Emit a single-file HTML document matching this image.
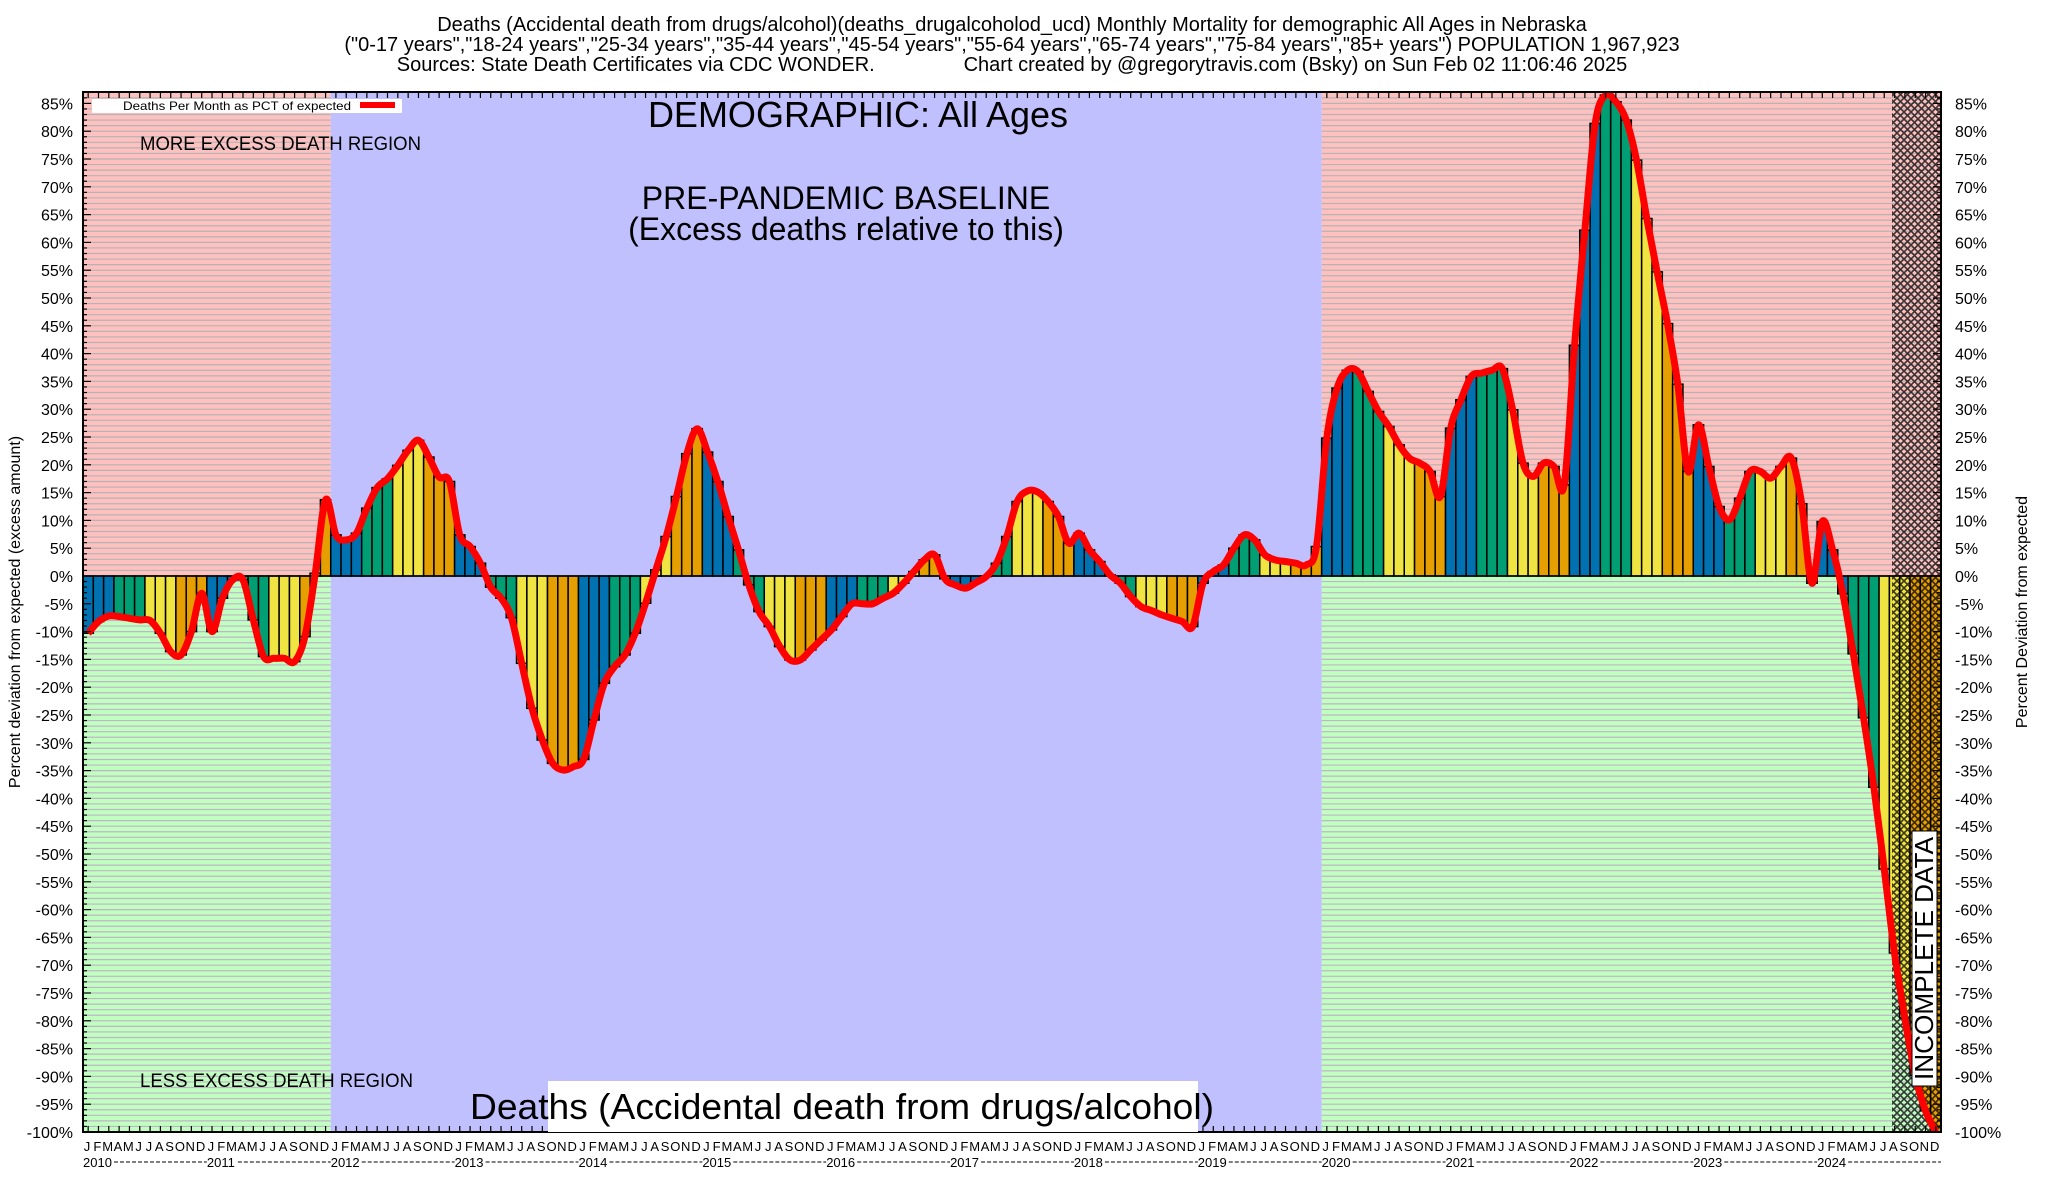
<!DOCTYPE html>
<html><head><meta charset="utf-8">
<style>
html,body{margin:0;padding:0;background:#fff;}
svg{display:block;font-family:"Liberation Sans",Arial,sans-serif;}
</style></head>
<body>
<svg id="chart" width="2048" height="1200" viewBox="0 0 2048 1200" xmlns="http://www.w3.org/2000/svg">
<defs>
<pattern id="hatch" width="7" height="7" patternUnits="userSpaceOnUse">
<path d="M0,0 L7,7 M7,0 L0,7" stroke="#000" stroke-width="1.6" opacity="0.75"/>
</pattern>
<clipPath id="plotclip"><rect x="83" y="92" width="1858" height="1040"/></clipPath>
</defs>
<g font-size="20" text-anchor="middle" fill="#000">
<text x="1012" y="31">Deaths (Accidental death from drugs/alcohol)(deaths_drugalcoholod_ucd) Monthly Mortality for demographic All Ages in Nebraska</text>
<text x="1012" y="51">("0-17 years","18-24 years","25-34 years","35-44 years","45-54 years","55-64 years","65-74 years","75-84 years","85+ years") POPULATION 1,967,923</text>
<text x="1012" y="71" xml:space="preserve">Sources: State Death Certificates via CDC WONDER.                Chart created by @gregorytravis.com (Bsky) on Sun Feb 02 11:06:46 2025</text>
</g>
<g id="bg"></g>
<g id="grid"></g>
<g id="bars"></g>
<rect x="1892" y="92" width="49" height="1040" fill="url(#hatch)"/>
<line id="zeroline" stroke="#000" stroke-width="1.5"/>
<path id="line" fill="none" stroke="#ff0000" stroke-width="7" stroke-linejoin="round" clip-path="url(#plotclip)"/>
<g id="axes"></g>
<g>
<rect x="92" y="99" width="310" height="14" fill="#fff"/>
<text x="123" y="110" font-size="12" textLength="228" lengthAdjust="spacingAndGlyphs">Deaths Per Month as PCT of expected</text>
<rect x="360" y="102" width="35" height="6" fill="#ff0000"/>
<text x="858" y="127" font-size="36" text-anchor="middle">DEMOGRAPHIC: All Ages</text>
<text x="846" y="209" font-size="32" text-anchor="middle">PRE-PANDEMIC BASELINE</text>
<text x="846" y="240" font-size="32" text-anchor="middle">(Excess deaths relative to this)</text>
<text x="140" y="150" font-size="19" textLength="281" lengthAdjust="spacingAndGlyphs">MORE EXCESS DEATH REGION</text>
<text x="140" y="1087" font-size="19" textLength="273" lengthAdjust="spacingAndGlyphs">LESS EXCESS DEATH REGION</text>
<rect x="548" y="1081" width="650" height="51" fill="#fff"/>
<text x="470" y="1119" font-size="36" textLength="744" lengthAdjust="spacingAndGlyphs">Deaths (Accidental death from drugs/alcohol)</text>
<rect x="1912" y="831" width="25" height="255" fill="#fff" stroke="#000" stroke-width="1"/>
<text transform="translate(1933,1080) rotate(-90)" font-size="26" textLength="243" lengthAdjust="spacingAndGlyphs">INCOMPLETE DATA</text>
<text transform="translate(20,612) rotate(-90)" font-size="16" text-anchor="middle">Percent deviation from expected (excess amount)</text>
<text transform="translate(2027,612) rotate(-90)" font-size="16" text-anchor="middle">Percent Deviation from expected</text>
</g>
</svg>
<script>
const years = ["2010","2011","2012","2013","2014","2015","2016","2017","2018","2019","2020","2021","2022","2023","2024"];
const monthLetters = ["J","F","M","A","M","J","J","A","S","O","N","D"];
const yTicks = [85,80,75,70,65,60,55,50,45,40,35,30,25,20,15,10,5,0,-5,-10,-15,-20,-25,-30,-35,-40,-45,-50,-55,-60,-65,-70,-75,-80,-85,-90,-95,-100];
const v2010 = [-10.3,-8.2,-7.2,-7.3,-7.6,-7.9,-8,-10.3,-13.6,-14.2,-10,-3.1];
const v2011 = [-10,-4,-0.7,-0.7,-7.9,-14.5,-14.8,-14.8,-15.4,-10.9,0.5,13.7];
const v2012 = [7.4,6.5,7.7,12.2,15.9,17.5,19.9,22.6,24.4,21.4,17.8,17];
const v2013 = [7.4,5.3,2.3,-2,-4,-7.5,-15.7,-23.8,-29.5,-33.7,-34.9,-34.3];
const v2014 = [-33,-25.9,-19.3,-16.3,-14.2,-10.3,-4.9,1.1,7.1,14.3,22,26.5];
const v2015 = [22.3,17,10.7,4.7,-1.6,-6.4,-9.1,-12.7,-15.1,-15.1,-13.3,-11.5];
const v2016 = [-9.7,-7.3,-5,-5,-5,-4,-3.1,-1.3,0.8,2.9,3.8,-0.5];
const v2017 = [-1.6,-2.2,-1.2,-0.1,2.3,7.1,13.4,15.3,15.1,13.4,10.7,5.9];
const v2018 = [7.7,4.7,2.6,0.2,-1.3,-3.7,-5.5,-6.2,-7,-7.6,-8.2,-9.1];
const v2019 = [-1.3,0.8,2,5,7.4,6.5,3.8,2.9,2.6,2.3,2,5.3];
const v2020 = [24.8,33.8,37,36.8,33.2,29.6,26.9,23.6,21.2,20.3,18.8,14.3];
const v2021 = [26.6,31.7,35.9,36.5,37,37.3,29.9,20.3,17.9,20.3,19.7,16.4];
const v2022 = [41.5,62.2,81.4,86.5,85.3,82,74.8,64.3,54.7,45.4,34.5,18.8];
const v2023 = [27.2,19.7,12.5,10.1,14,18.8,18.8,17.6,19.7,21.2,13,-1.3];
const v2024 = [9.8,4.7,-3.2,-14,-25.5,-38,-52.7,-67.8,-79.5,-89.8,-96.2,-100];
const values = [].concat(v2010,v2011,v2012,v2013,v2014,v2015,v2016,v2017,v2018,v2019,v2020,v2021,v2022,v2023,v2024);
const baselineStartMonth = 24, baselineEndMonth = 120, incompleteStartMonth = 175;

const NS = "http://www.w3.org/2000/svg";
const X0 = 83, X1 = 1941, Y0 = 92, Y1 = 1132;
const nMonths = years.length * 12;
const mw = (X1 - X0) / nMonths;
function xs(i){ return X0 + i * mw; }
function ys(v){ return 576 - v * 5.56; }
function el(tag, attrs, parent){ const e = document.createElementNS(NS, tag); for (const k in attrs) e.setAttribute(k, attrs[k]); parent.appendChild(e); return e; }

const bg = document.getElementById("bg");
const zeroY = ys(0);
let r;
r = el("rect", {x:X0, y:Y0, width:xs(baselineStartMonth)-X0, height:zeroY-Y0, fill:"#ffc0c0"}, bg);


r = el("rect", {x:X0, y:zeroY, width:xs(baselineStartMonth)-X0, height:Y1-zeroY, fill:"#c0ffc0"}, bg);


r = el("rect", {x:xs(baselineEndMonth), y:Y0, width:X1-xs(baselineEndMonth), height:zeroY-Y0, fill:"#ffc0c0"}, bg);


r = el("rect", {x:xs(baselineEndMonth), y:zeroY, width:X1-xs(baselineEndMonth), height:Y1-zeroY, fill:"#c0ffc0"}, bg);



const grid = document.getElementById("grid");
const segs = [[X0, xs(baselineStartMonth)], [xs(baselineEndMonth), X1]];
for (let p = -99; p <= 87; p++) {
  if (p === 0) continue;
  const y = ys(p);
  if (y < Y0) continue;
  segs.forEach(s => {
    const g = el("line", {x1:s[0], x2:s[1], y1:y, y2:y, stroke: p>0?"#b4b4b4":"#c0b4c8", "stroke-width":1.2}, grid);
    
    
  });
}
r = el("rect", {x:xs(baselineStartMonth), y:Y0, width:xs(baselineEndMonth)-xs(baselineStartMonth), height:Y1-Y0, fill:"#c0c0ff"}, bg);



const colors = ["#0072b2","#009e73","#f0e442","#e69f00"];
const bars = document.getElementById("bars");
values.forEach((v, i) => {
  const y = ys(v);
  const b = el("rect", {x:xs(i), y:Math.min(y, zeroY), width:mw, height:Math.abs(y - zeroY), fill:colors[Math.floor((i % 12) / 3)], stroke:"#000", "stroke-width":1.5}, bars);
  
  
});

const zl = document.getElementById("zeroline");
zl.setAttribute("x1", X0); zl.setAttribute("x2", X1); zl.setAttribute("y1", zeroY); zl.setAttribute("y2", zeroY);

const pts = values.map((v, i) => [xs(i) + mw/2, ys(v)]);
let d = "M" + pts[0][0] + "," + pts[0][1];
for (let i = 0; i < pts.length - 1; i++) {
  const p0 = pts[Math.max(0, i-1)], p1 = pts[i], p2 = pts[i+1], p3 = pts[Math.min(pts.length-1, i+2)];
  const c1 = [p1[0] + (p2[0]-p0[0])/6, p1[1] + (p2[1]-p0[1])/6];
  const c2 = [p2[0] - (p3[0]-p1[0])/6, p2[1] - (p3[1]-p1[1])/6];
  d += " C" + c1[0].toFixed(1) + "," + c1[1].toFixed(1) + " " + c2[0].toFixed(1) + "," + c2[1].toFixed(1) + " " + p2[0].toFixed(1) + "," + p2[1].toFixed(1);
}
document.getElementById("line").setAttribute("d", d);

const axes = document.getElementById("axes");
let f = el("rect", {x:X0, y:Y0, width:X1-X0, height:Y1-Y0, fill:"none", stroke:"#000", "stroke-width":2}, axes);


for (let p = -100; p <= 87; p++) {
  const y = ys(p);
  const len = (p % 5 === 0) ? 8 : 4;
  el("line", {x1:X0, x2:X0+len, y1:y, y2:y, stroke:"#000", "stroke-width":1.2}, axes);
  el("line", {x1:X1-len, x2:X1, y1:y, y2:y, stroke:"#000", "stroke-width":1.2}, axes);
}
yTicks.forEach(t => {
  const y = ys(t) + 6;
  const a = el("text", {x:73, y:y, "font-size":16, "text-anchor":"end"}, axes);
  a.textContent = t + "%";
  
  
  const b = el("text", {x:1955, y:y, "font-size":16}, axes);
  b.textContent = t + "%";
  
  
});
for (let i = 0; i < nMonths; i++) {
  const x = xs(i) + mw/2;
  el("line", {x1:x, x2:x, y1:Y0, y2:Y0+6, stroke:"#000", "stroke-width":1.2}, axes);
  el("line", {x1:x, x2:x, y1:Y1-6, y2:Y1, stroke:"#000", "stroke-width":1.2}, axes);
  const t = el("text", {x:xs(i)+4, y:1151, "font-size":13, "text-anchor":"middle"}, axes);
  t.textContent = monthLetters[i % 12];
  
  
}
years.forEach((yr, k) => {
  const x = xs(k*12);
  const t = el("text", {x:x, y:1167, "font-size":13}, axes);
  t.textContent = yr;
  
  
  const ln = el("line", {x1:x+31, x2:xs(k*12+12), y1:1162, y2:1162, stroke:"#000", "stroke-width":1, "stroke-dasharray":"4,2"}, axes);
  
  
});
</script>
</body></html>
